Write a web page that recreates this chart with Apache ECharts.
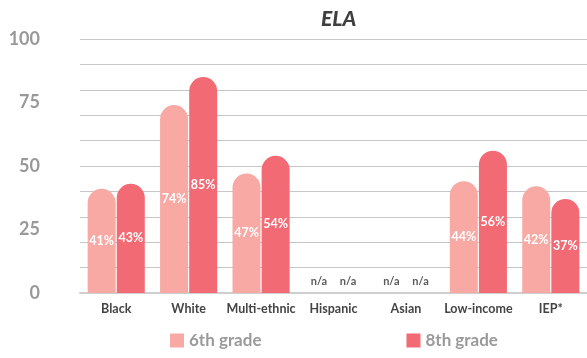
<!DOCTYPE html>
<html><head><meta charset="utf-8">
<script src="https://cdn.jsdelivr.net/npm/echarts@6/dist/echarts.min.js"></script>
<style>html,body{margin:0;padding:0;background:#fff}#c{width:587px;height:358px}</style>
</head><body><div id="c"></div>
<script>
const categories = ['Black','White','Multi-ethnic','Hispanic','Asian','Low-income','IEP*'];
const grade6 = [41, 74, 47, null, null, 44, 42];
const grade8 = [43, 85, 54, null, null, 56, 37];
const seriesNames = ['6th grade', '8th grade'];
const yTicks = [0, 25, 50, 75, 100];

const FONT = 'Lato, "Open Sans", sans-serif';
function toData(arr){
  return arr.map(v => v == null
    ? {value: 0, label: {show: true, position: 'top', distance: 6, formatter: 'n/a', color: '#5a5a5a', fontSize: 11, fontWeight: 'bold'}}
    : v);
}
const barLabel = {show: true, position: 'inside', formatter: '{c}%', color: '#fff', fontSize: 12.5, fontWeight: 'bold', fontFamily: FONT};

const chart = echarts.init(document.getElementById('c'));
chart.setOption({
  animation: false,
  title: {text: 'ELA', left: 316, top: 4, textStyle: {fontFamily: FONT, fontSize: 21, fontWeight: 900, fontStyle: 'italic', color: '#3f3f3f'}},
  grid: {left: 80, right: -2, top: 39, bottom: 65},
  legend: {data: seriesNames, bottom: 4, left: 165, itemGap: 145, itemWidth: 14, itemHeight: 14, icon: 'rect',
    textStyle: {fontFamily: FONT, fontSize: 17, fontWeight: 'bold', color: '#9a9a9a'}},
  xAxis: {type: 'category', data: categories,
    axisLine: {lineStyle: {color: '#cfcfcf', width: 2}}, axisTick: {show: false},
    axisLabel: {interval: 0, fontFamily: FONT, fontSize: 12.5, fontWeight: 'bold', color: '#444', margin: 9}},
  yAxis: [
    {type: 'value', min: yTicks[0], max: yTicks[yTicks.length-1], interval: 25,
      axisLabel: {fontFamily: FONT, fontSize: 18, fontWeight: 'bold', color: '#999', margin: 40},
      splitLine: {show: false}, axisLine: {show: false}, axisTick: {show: false}},
    {type: 'value', min: 0, max: 100, interval: 10, position: 'left',
      axisLabel: {show: false}, axisLine: {show: false}, axisTick: {show: false},
      splitLine: {lineStyle: {color: '#c6c6c6', width: 1}}}
  ],
  series: [
    {name: seriesNames[0], type: 'bar', data: toData(grade6), barWidth: 28, barGap: '4%',
      itemStyle: {color: '#F8A9A4', borderRadius: [14,14,0,0]}, label: barLabel},
    {name: seriesNames[1], type: 'bar', data: toData(grade8), barWidth: 28, barGap: '4%',
      itemStyle: {color: '#F26A73', borderRadius: [14,14,0,0]}, label: barLabel}
  ]
});
</script></body></html>
